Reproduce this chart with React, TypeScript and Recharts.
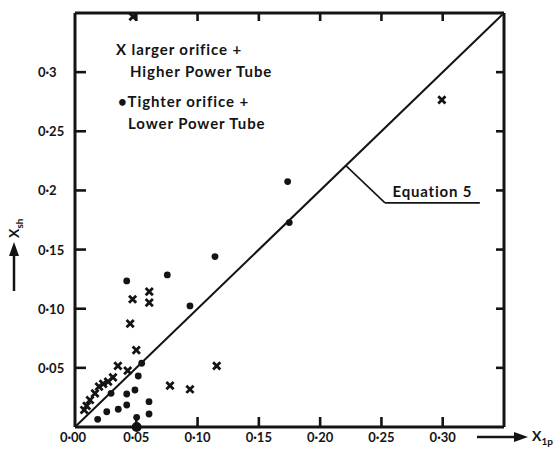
import { ReferenceLine, Scatter, ScatterChart, XAxis, YAxis } from "recharts";

const ink = "#141414";
const font = "Lato, 'DejaVu Sans', sans-serif";

const xTicks = [0, 0.05, 0.1, 0.15, 0.2, 0.25, 0.3];
const xTickLabels = ["0·00", "0·05", "0·10", "0·15", "0·20", "0·25", "0·30"];
const yTicks = [0.05, 0.1, 0.15, 0.2, 0.25, 0.3];
const yTickLabels = ["0·05", "0·10", "0·15", "0·2", "0·25", "0·3"];
const frameTicks = [0.05, 0.1, 0.15, 0.2, 0.25, 0.3];
const axisMax = 0.35;

// X : larger orifice + higher power tube
const crossX = [0.05, 0.035, 0.043, 0.031, 0.027, 0.023, 0.0196, 0.0163, 0.0122, 0.0095, 0.0075, 0.047, 0.0606, 0.0606, 0.045, 0.0775, 0.0938, 0.1156, 0.2993, 0.0473];
const crossY = [0.065, 0.0516, 0.0476, 0.042, 0.0383, 0.0364, 0.0341, 0.0285, 0.0228, 0.0178, 0.0144, 0.108, 0.1144, 0.1051, 0.0874, 0.035, 0.0319, 0.0516, 0.2766, 0.347];

// dots : tighter orifice + lower power tube
const dotX = [0.0544, 0.0516, 0.0489, 0.0422, 0.0422, 0.0353, 0.0259, 0.0185, 0.0294, 0.0604, 0.0604, 0.0503, 0.0422, 0.0753, 0.0938, 0.1142, 0.1735, 0.1748];
const dotY = [0.0539, 0.0431, 0.0313, 0.0279, 0.0186, 0.015, 0.0129, 0.0065, 0.0285, 0.0214, 0.011, 0.0082, 0.1235, 0.1286, 0.1024, 0.1441, 0.2075, 0.1728];

const bigDotX = [0.0503];
const bigDotY = [0.0];

// equation 5 line and its pointer
const eqLine = [0, 0.35];
const pointerX = [0.221, 0.2529, 0.3303];
const pointerY = [0.221, 0.1895, 0.1895];

const crosses = crossX.map((x, i) => ({ x, y: crossY[i] }));
const dots = dotX.map((x, i) => ({ x, y: dotY[i] }));
const bigDots = bigDotX.map((x, i) => ({ x, y: bigDotY[i] }));

// frame tick stubs, as data points on the frame
const frameMarks = [
  ...xTicks.filter((v) => v > 0).map((x) => ({ x, y: 0, side: "b" })),
  ...yTicks.map((y) => ({ x: 0, y, side: "l" })),
  ...frameTicks.map((x) => ({ x, y: axisMax, side: "t" })),
  ...frameTicks.map((y) => ({ x: axisMax, y, side: "r" })),
];

const labelFor = (ticks: number[], labels: string[], v: number) =>
  labels[ticks.findIndex((t) => Math.abs(t - v) < 1e-9)] ?? "";

function BottomTick(props: any) {
  const { x, y, payload } = props;
  return (
    <text x={payload.value === 0 ? x - 2 : x} y={y + 15} textAnchor="middle" fontSize={13} fontWeight={700} fill={ink} fontFamily={font}>
      {labelFor(xTicks, xTickLabels, payload.value)}
    </text>
  );
}

function LeftTick(props: any) {
  const { x, y, payload } = props;
  return (
    <text x={x - 37} y={y + 5} textAnchor="start" fontSize={13} fontWeight={700} fill={ink} fontFamily={font}>
      {labelFor(yTicks, yTickLabels, payload.value)}
    </text>
  );
}

function FrameMark(props: any) {
  const { cx, cy, payload } = props;
  const side = payload?.side ?? props.side;
  let d = "";
  if (side === "b") d = `M${cx},${cy} L${cx},${cy - 10}`;
  else if (side === "l") d = `M${cx},${cy} L${cx + 11},${cy}`;
  else if (side === "t") d = `M${cx},${cy} L${cx},${cy + 8}`;
  else d = `M${cx},${cy} L${cx - 8},${cy}`;
  return <path d={d} stroke={ink} strokeWidth={2.6} fill="none" />;
}

function XName(props: any) {
  const { x, y, width } = props.viewBox;
  const ay = y + 10;
  const end = x + width;
  return (
    <g>
      <line x1={end - 27} y1={ay} x2={end + 14} y2={ay} stroke={ink} strokeWidth={2.5} />
      <path d={`M${end + 24},${ay} L${end + 10},${ay - 5} L${end + 10},${ay + 5} Z`} fill={ink} />
      <text x={end + 28} y={ay + 4} fontSize={14} fontWeight={700} fill={ink} fontFamily={font}>
        X<tspan dy={4} fontSize={10}>1p</tspan>
      </text>
    </g>
  );
}

function YName() {
  const ax = 14;
  return (
    <g>
      <line x1={ax} y1={291} x2={ax} y2={252} stroke={ink} strokeWidth={2.5} />
      <path d={`M${ax},${242} L${ax - 5},${256} L${ax + 5},${256} Z`} fill={ink} />
      <text x={ax + 5} y={238} transform={`rotate(-90, ${ax + 5}, 238)`} fontSize={14} fontWeight={700} fill={ink} fontFamily={font}>
        X<tspan dy={4} fontSize={10}>sh</tspan>
      </text>
    </g>
  );
}

function Cross(props: any) {
  const { cx, cy } = props;
  const s = 3.6;
  return (
    <path
      d={`M${cx - s},${cy - s} L${cx + s},${cy + s} M${cx + s},${cy - s} L${cx - s},${cy + s}`}
      stroke={ink}
      strokeWidth={2.8}
      fill="none"
    />
  );
}

function Dot(props: any) {
  return <circle cx={props.cx} cy={props.cy} r={3.4} fill={ink} />;
}

function BigDot(props: any) {
  return <circle cx={props.cx} cy={props.cy} r={5} fill={ink} />;
}

const legendLine = { fontFamily: font, fontWeight: 700, fontSize: 15, color: ink, position: "absolute" as const, whiteSpace: "nowrap" as const, letterSpacing: 0.9 };

export default function App() {
  return (
    <div style={{ position: "absolute", left: 0, top: 0, width: 556, height: 450, background: "#fff" }}>
      <ScatterChart width={556} height={450} margin={{ top: 12, right: 51, bottom: 0, left: 0 }}>
        <XAxis xAxisId="b" type="number" dataKey="x" domain={[0, axisMax]} ticks={xTicks} height={23} interval={0}
          tickSize={0} tickMargin={0} tick={<BottomTick />} axisLine={{ stroke: ink, strokeWidth: 3 }} label={<XName />} />
        <XAxis xAxisId="t" orientation="top" type="number" dataKey="x" domain={[0, axisMax]} height={1}
          tick={false} tickLine={false} axisLine={{ stroke: ink, strokeWidth: 3 }} />
        <YAxis yAxisId="l" type="number" dataKey="y" domain={[0, axisMax]} ticks={yTicks} width={75} interval={0}
          tickSize={0} tickMargin={0} tick={<LeftTick />} axisLine={{ stroke: ink, strokeWidth: 3 }} label={<YName />} />
        <YAxis yAxisId="r" orientation="right" type="number" dataKey="y" domain={[0, axisMax]} width={1}
          tick={false} tickLine={false} axisLine={{ stroke: ink, strokeWidth: 3 }} />
        <ReferenceLine xAxisId="b" yAxisId="l" segment={[{ x: eqLine[0], y: eqLine[0] }, { x: eqLine[1], y: eqLine[1] }]}
          stroke={ink} strokeWidth={2} ifOverflow="visible" />
        <ReferenceLine xAxisId="b" yAxisId="l" segment={[{ x: pointerX[0], y: pointerY[0] }, { x: pointerX[1], y: pointerY[1] }]}
          stroke={ink} strokeWidth={1.6} />
        <ReferenceLine xAxisId="b" yAxisId="l" segment={[{ x: pointerX[1], y: pointerY[1] }, { x: pointerX[2], y: pointerY[2] }]}
          stroke={ink} strokeWidth={1.6}
          label={{ value: "Equation 5", position: "top", offset: 6, fontSize: 15, fontWeight: 700, fill: ink, fontFamily: font, letterSpacing: 0.8 }} />
        <Scatter xAxisId="b" yAxisId="l" data={frameMarks} shape={<FrameMark />} isAnimationActive={false} />
        <Scatter xAxisId="b" yAxisId="l" data={crosses} shape={<Cross />} isAnimationActive={false} />
        <Scatter xAxisId="b" yAxisId="l" data={dots} shape={<Dot />} isAnimationActive={false} />
        {/* same domains on the frame axes, so this lands on the same spot */}
        <Scatter xAxisId="t" yAxisId="r" data={bigDots} shape={<BigDot />} isAnimationActive={false} />
      </ScatterChart>
      <div style={{ ...legendLine, left: 116, top: 40 }}>X larger orifice +</div>
      <div style={{ ...legendLine, left: 130, top: 62 }}>Higher Power Tube</div>
      <div style={{ ...legendLine, left: 118, top: 92 }}>•Tighter orifice +</div>
      <div style={{ ...legendLine, left: 128, top: 114 }}>Lower Power Tube</div>
    </div>
  );
}
